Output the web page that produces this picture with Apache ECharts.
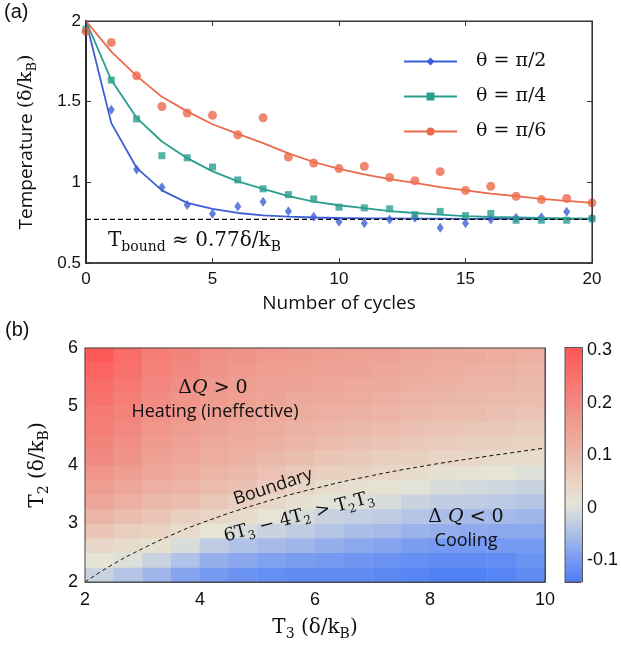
<!DOCTYPE html>
<html>
<head>
<meta charset="utf-8">
<script src="https://cdn.jsdelivr.net/npm/echarts@6/dist/echarts.min.js"></script>
<style>
html, body { margin: 0; padding: 0; background: #fff; }
#chart { width: 621px; height: 645px; }
</style>
</head>
<body>
<div id="chart"></div>
<script>
// (a) temperature vs number of cycles
const cycles = [0, 1, 2, 3, 4, 5, 6, 7, 8, 9, 10, 11, 12, 13, 14, 15, 16, 17, 18, 19, 20]
const markBlue = [1.94, 1.45, 1.08, 0.97, 0.86, 0.805, 0.85, 0.88, 0.82, 0.786, 0.756, 0.747, 0.77, 0.78, 0.718, 0.747, 0.77, 0.78, 0.783, 0.818, 0.78]
const markTeal = [1.95, 1.634, 1.393, 1.165, 1.152, 1.095, 1.015, 0.96, 0.924, 0.897, 0.846, 0.842, 0.836, 0.80, 0.82, 0.794, 0.807, 0.765, 0.765, 0.765, 0.774]
const markOrange = [1.936, 1.867, 1.66, 1.47, 1.43, 1.416, 1.295, 1.40, 1.157, 1.12, 1.085, 1.10, 1.03, 1.01, 1.066, 0.95, 0.975, 0.914, 0.893, 0.90, 0.873]
const fitBlue = [2.0, 1.367, 1.09, 0.95, 0.873, 0.836, 0.81, 0.795, 0.787, 0.782, 0.779, 0.777, 0.776, 0.775, 0.775, 0.774, 0.774, 0.774, 0.774, 0.774, 0.774]
const fitTeal = [2.0, 1.634, 1.40, 1.253, 1.15, 1.068, 1.006, 0.96, 0.914, 0.88, 0.858, 0.84, 0.821, 0.81, 0.80, 0.79, 0.785, 0.783, 0.779, 0.777, 0.775]
const fitOrange = [2.0, 1.81, 1.66, 1.53, 1.44, 1.36, 1.30, 1.243, 1.18, 1.126, 1.083, 1.05, 1.02, 0.996, 0.97, 0.95, 0.93, 0.914, 0.897, 0.885, 0.873]
const tBound = 0.77
const thetaNames = ['θ = π/2', 'θ = π/4', 'θ = π/6']

// (b) heat map of ΔQ, cell centres
const gridT3 = [2.25, 2.75, 3.25, 3.75, 4.25, 4.75, 5.25, 5.75, 6.25, 6.75, 7.25, 7.75, 8.25, 8.75, 9.25, 9.75]
const gridT2 = [2.125, 2.375, 2.625, 2.875, 3.125, 3.375, 3.625, 3.875, 4.125, 4.375, 4.625, 4.875, 5.125, 5.375, 5.625, 5.875]
// one column per T3, values from T2 = 2.125 upwards
const dQ = [
  [-0.02, 0.01, 0.04, 0.08, 0.11, 0.14, 0.16, 0.18, 0.20, 0.21, 0.22, 0.23, 0.245, 0.26, 0.28, 0.30],
  [-0.04, 0.00, 0.03, 0.06, 0.09, 0.12, 0.14, 0.16, 0.18, 0.19, 0.20, 0.21, 0.22, 0.235, 0.25, 0.26],
  [-0.06, -0.02, 0.02, 0.05, 0.08, 0.10, 0.12, 0.14, 0.155, 0.165, 0.175, 0.185, 0.195, 0.205, 0.215, 0.225],
  [-0.085, -0.045, -0.005, 0.03, 0.06, 0.09, 0.11, 0.125, 0.14, 0.15, 0.16, 0.17, 0.18, 0.19, 0.20, 0.21],
  [-0.10, -0.07, -0.03, 0.01, 0.045, 0.075, 0.095, 0.11, 0.125, 0.135, 0.145, 0.155, 0.165, 0.17, 0.18, 0.19],
  [-0.11, -0.08, -0.045, -0.005, 0.03, 0.06, 0.085, 0.10, 0.115, 0.125, 0.135, 0.145, 0.155, 0.16, 0.17, 0.18],
  [-0.115, -0.09, -0.055, -0.02, 0.01, 0.04, 0.065, 0.085, 0.10, 0.115, 0.125, 0.135, 0.145, 0.15, 0.16, 0.17],
  [-0.12, -0.095, -0.06, -0.03, -0.005, 0.02, 0.045, 0.07, 0.09, 0.105, 0.115, 0.125, 0.135, 0.145, 0.155, 0.165],
  [-0.12, -0.10, -0.07, -0.04, -0.02, 0.005, 0.03, 0.06, 0.08, 0.095, 0.11, 0.12, 0.13, 0.14, 0.15, 0.16],
  [-0.12, -0.105, -0.08, -0.05, -0.025, 0.00, 0.02, 0.05, 0.07, 0.085, 0.10, 0.115, 0.125, 0.135, 0.145, 0.155],
  [-0.125, -0.11, -0.085, -0.055, -0.03, -0.005, 0.015, 0.04, 0.06, 0.08, 0.095, 0.11, 0.12, 0.13, 0.14, 0.15],
  [-0.13, -0.115, -0.095, -0.065, -0.04, -0.02, 0.005, 0.03, 0.055, 0.07, 0.085, 0.10, 0.11, 0.12, 0.13, 0.14],
  [-0.135, -0.12, -0.10, -0.07, -0.05, -0.03, -0.005, 0.02, 0.045, 0.065, 0.08, 0.095, 0.105, 0.115, 0.125, 0.135],
  [-0.135, -0.12, -0.10, -0.075, -0.055, -0.03, -0.01, 0.015, 0.04, 0.06, 0.075, 0.09, 0.10, 0.11, 0.12, 0.13],
  [-0.13, -0.12, -0.10, -0.08, -0.055, -0.035, -0.015, 0.01, 0.035, 0.055, 0.07, 0.085, 0.095, 0.105, 0.115, 0.125],
  [-0.12, -0.11, -0.10, -0.08, -0.06, -0.04, -0.02, 0.00, 0.03, 0.05, 0.065, 0.08, 0.09, 0.10, 0.11, 0.12],
]
// boundary 6T3 - 4T2 = T2T3
const boundT3 = [2, 2.5, 3, 3.5, 4, 5, 6, 7, 8, 9, 10]
const boundT2 = [2, 2.31, 2.57, 2.8, 3, 3.33, 3.6, 3.82, 4, 4.15, 4.29]
const cbarTicks = [-0.1, 0, 0.1, 0.2, 0.3]
const cbarMin = -0.141
const cbarMax = 0.3055

const SANS = '"Open Sans", "Noto Sans", sans-serif'
const NUM = '"Liberation Sans", Arial, sans-serif'
const SERIF = '"DejaVu Serif", "Liberation Serif", serif'
const INK = '#111'

// plot boxes (pixels)
const boxA = { left: 86, top: 21, width: 506, height: 242 }
const boxB = { left: 85, top: 348, width: 460, height: 234 }
const boxC = { left: 565, top: 347.5, width: 17.5, height: 234.5 }

function mathRich(size) {
  return {
    m: { fontFamily: SERIF, fontSize: size, lineHeight: size + 6, color: INK, fill: INK },
    i: { fontFamily: SERIF, fontSize: size, lineHeight: size + 6, fontStyle: 'italic', color: INK, fill: INK },
    s: { fontFamily: SERIF, fontSize: Math.round(size * 0.68), lineHeight: Math.round(size * 0.68), verticalAlign: 'bottom', color: INK, fill: INK },
  }
}

function frameAxis(grid, pos, lineColor, lineWidth, extra) {
  return Object.assign({
    gridIndex: grid,
    type: 'value',
    position: pos,
    axisLine: { show: true, onZero: false, lineStyle: { color: lineColor, width: lineWidth } },
    axisTick: { show: true, inside: true, length: 5, lineStyle: { color: '#333', width: 1 } },
    axisLabel: { show: false },
    splitLine: { show: false },
  }, extra)
}

// outline drawn on top of everything
function frameRect(b, color, width) {
  return {
    type: 'rect', z: 100, silent: true,
    shape: { x: b.left, y: b.top, width: b.width, height: b.height },
    style: { fill: 'none', stroke: color, lineWidth: width },
  }
}

const tickLabel = { show: true, color: INK, fontSize: 17, fontFamily: NUM, margin: 8 }

var myChart = echarts.init(document.getElementById('chart'))
let option = {
  animation: false,
  backgroundColor: '#fff',
  grid: [
    Object.assign({}, boxA),
    Object.assign({}, boxB),
    Object.assign({}, boxB),
    Object.assign({}, boxC),
  ],
  legend: {
    data: thetaNames,
    orient: 'vertical',
    left: 398,
    top: 46,
    itemWidth: 53,
    itemHeight: 10,
    itemGap: 14,
    selectedMode: false,
    textStyle: { fontFamily: SERIF, fontSize: 19, color: INK, lineHeight: 21, padding: [0, 0, 0, 14] },
  },
  visualMap: {
    type: 'continuous',
    seriesIndex: 7,
    min: cbarMin,
    max: cbarMax,
    calculable: false,
    orient: 'vertical',
    left: boxC.left,
    top: boxC.top,
    padding: 0,
    itemWidth: boxC.width,
    itemHeight: boxC.height,
    inRange: {
      color: ['#4b7ef6', '#7f9ff0', '#b3c4e6', '#e5e5d6', '#e9d0c0', '#ebb5a6', '#ee9f92', '#f3867e', '#f96e6a', '#ff5757'],
    },
  },
  xAxis: [
    frameAxis(0, 'bottom', '#222', 1.5, {
      min: 0, max: 20, interval: 5,
      axisLabel: tickLabel,
      name: 'Number of cycles',
      nameLocation: 'middle',
      nameGap: 31,
      nameTextStyle: { fontFamily: SANS, fontSize: 19, color: INK },
    }),
    frameAxis(0, 'top', '#444', 1, { min: 0, max: 20, interval: 5 }),
    { gridIndex: 1, type: 'category', data: gridT3, show: false },
    frameAxis(2, 'bottom', '#444', 1, {
      min: 2, max: 10, interval: 2,
      axisLabel: Object.assign({}, tickLabel, { fontSize: 18, margin: 9 }),
      name: '{m|T}{s|3}{m| (δ/k}{s|B}{m|)}',
      nameLocation: 'middle',
      nameGap: 33,
      nameTextStyle: { rich: mathRich(20) },
    }),
    frameAxis(2, 'top', '#444', 1, { min: 2, max: 10, interval: 2 }),
    frameAxis(3, 'bottom', '#555', 1, { min: 0, max: 1, axisTick: { show: false } }),
    frameAxis(3, 'top', '#555', 1, { min: 0, max: 1, axisTick: { show: false } }),
  ],
  yAxis: [
    frameAxis(0, 'left', '#222', 2, {
      min: 0.5, max: 2, interval: 0.5,
      axisLabel: Object.assign({}, tickLabel, { margin: 5 }),
      name: 'Temperature {m|(δ/k}{s|B}{m|)}',
      nameLocation: 'middle',
      nameRotate: 90,
      nameGap: 47,
      nameTextStyle: { fontFamily: SANS, fontSize: 19, color: INK, lineHeight: 25, rich: mathRich(19) },
    }),
    frameAxis(0, 'right', '#444', 1, { min: 0.5, max: 2, interval: 0.5 }),
    { gridIndex: 1, type: 'category', data: gridT2, show: false },
    frameAxis(2, 'left', '#444', 1, {
      min: 2, max: 6, interval: 1,
      axisLabel: Object.assign({}, tickLabel, { fontSize: 18, margin: 7 }),
      name: '{m|T}{s|2}{m| (δ/k}{s|B}{m|)}',
      nameLocation: 'middle',
      nameRotate: 90,
      nameGap: 34,
      nameTextStyle: { rich: mathRich(20) },
    }),
    frameAxis(2, 'right', '#444', 1, { min: 2, max: 6, interval: 1 }),
    frameAxis(3, 'right', '#555', 1, {
      min: cbarMin, max: cbarMax,
      axisTick: { show: true, inside: true, length: 4, customValues: cbarTicks, lineStyle: { color: '#333' } },
      axisLabel: Object.assign({}, tickLabel, { customValues: cbarTicks, margin: 7, fontSize: 18 }),
    }),
    frameAxis(3, 'left', '#555', 1, { min: cbarMin, max: cbarMax, axisTick: { show: false } }),
  ],
  series: [
    {
      name: thetaNames[0], type: 'line', xAxisIndex: 0, yAxisIndex: 0,
      data: cycles.map((c, i) => [c, fitBlue[i]]),
      symbol: 'diamond', showSymbol: false, z: 2,
      lineStyle: { color: '#3c5fd6', width: 1.8 }, itemStyle: { color: '#3c5fd6' },
    },
    {
      name: thetaNames[1], type: 'line', xAxisIndex: 0, yAxisIndex: 0,
      data: cycles.map((c, i) => [c, fitTeal[i]]),
      symbol: 'rect', showSymbol: false, z: 2,
      lineStyle: { color: '#2b9e8e', width: 1.8 }, itemStyle: { color: '#2b9e8e' },
    },
    {
      name: thetaNames[2], type: 'line', xAxisIndex: 0, yAxisIndex: 0,
      data: cycles.map((c, i) => [c, fitOrange[i]]),
      symbol: 'circle', showSymbol: false, z: 2,
      lineStyle: { color: '#ec6a4c', width: 1.8 }, itemStyle: { color: '#ec6a4c' },
    },
    {
      type: 'line', xAxisIndex: 0, yAxisIndex: 0,
      data: [[cycles[0], tBound], [cycles[cycles.length - 1], tBound]],
      symbol: 'none', z: 3,
      lineStyle: { color: '#000', width: 1.3, type: [5, 3] },
    },
    {
      name: thetaNames[0], type: 'scatter', xAxisIndex: 0, yAxisIndex: 0,
      data: cycles.map((c, i) => [c, markBlue[i]]),
      symbol: 'diamond', symbolSize: [7, 10], z: 4, itemStyle: { color: '#3c5fd6' },
    },
    {
      name: thetaNames[1], type: 'scatter', xAxisIndex: 0, yAxisIndex: 0,
      data: cycles.map((c, i) => [c, markTeal[i]]),
      symbol: 'rect', symbolSize: 7, z: 4, itemStyle: { color: '#2b9e8e' },
    },
    {
      name: thetaNames[2], type: 'scatter', xAxisIndex: 0, yAxisIndex: 0,
      data: cycles.map((c, i) => [c, markOrange[i]]),
      symbol: 'circle', symbolSize: 9, z: 4, itemStyle: { color: '#ec6a4c' },
    },
    {
      type: 'heatmap', xAxisIndex: 2, yAxisIndex: 2,
      data: dQ.flatMap((col, i) => col.map((v, j) => [i, j, v])),
      itemStyle: { borderWidth: 0 },
      emphasis: { disabled: true },
      z: 1,
    },
    {
      type: 'line', xAxisIndex: 3, yAxisIndex: 3,
      data: boundT3.map((t, i) => [t, boundT2[i]]),
      smooth: true, symbol: 'none', z: 5,
      lineStyle: { color: '#111', width: 1, type: [4, 3] },
    },
  ],
  graphic: [
    frameRect(boxA, '#333', 1.2),
    frameRect(boxB, '#444', 1),
    frameRect(boxC, '#555', 1),
    { type: 'text', left: 4, top: 2, z: 100, style: { text: '(a)', fontFamily: NUM, fontSize: 20, fill: INK } },
    { type: 'text', left: 5, top: 320, z: 100, style: { text: '(b)', fontFamily: NUM, fontSize: 20, fill: INK } },
    {
      type: 'text', x: 108, y: 241, z: 100,
      style: { text: '{m|T}{s|bound}{m| ≈ 0.77δ/k}{s|B}', rich: mathRich(20), align: 'left', verticalAlign: 'middle' },
    },
    {
      type: 'text', x: 213, y: 388, z: 100,
      style: { text: '{m|Δ}{i|Q}{m| > 0}', rich: mathRich(19), align: 'center', verticalAlign: 'middle' },
    },
    {
      type: 'text', x: 215, y: 412, z: 100,
      style: { text: 'Heating (ineffective)', fontFamily: SANS, fontSize: 18, fill: INK, align: 'center', verticalAlign: 'middle' },
    },
    {
      type: 'text', x: 273, y: 487, z: 100, rotation: 0.32,
      style: { text: 'Boundary', fontFamily: SANS, fontSize: 18, fill: INK, align: 'center', verticalAlign: 'middle' },
    },
    {
      type: 'text', x: 299, y: 517, z: 100, rotation: 0.26,
      style: { text: '{m|6T}{s|3}{m| − 4T}{s|2}{m| > T}{s|2}{m|T}{s|3}', rich: mathRich(18), align: 'center', verticalAlign: 'middle' },
    },
    {
      type: 'text', x: 466, y: 517, z: 100,
      style: { text: '{m|Δ }{i|Q}{m| < 0}', rich: mathRich(19), align: 'center', verticalAlign: 'middle' },
    },
    {
      type: 'text', x: 466, y: 541, z: 100,
      style: { text: 'Cooling', fontFamily: SANS, fontSize: 18, fill: INK, align: 'center', verticalAlign: 'middle' },
    },
  ],
}
myChart.setOption(option, true)
</script>
</body>
</html>
